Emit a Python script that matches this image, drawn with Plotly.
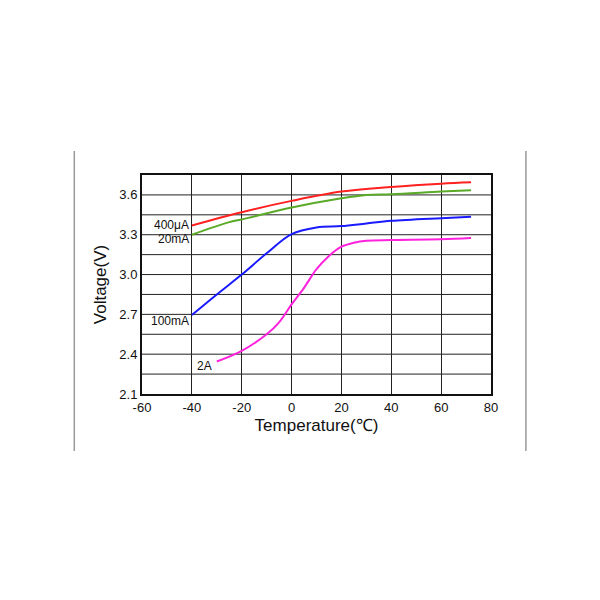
import plotly.graph_objects as go

red_x = [-40, -20, 0, 20, 40, 60, 72]
red_y = [3.37, 3.47, 3.555, 3.625, 3.66, 3.685, 3.695]
green_x = [-40, -25, -20, 0, 20, 30, 40, 60, 72]
green_y = [3.30, 3.395, 3.415, 3.505, 3.575, 3.60, 3.605, 3.625, 3.635]
blue_x = [-40, -30, -20, -10, 0, 10, 20, 30, 40, 60, 72]
blue_y = [2.695, 2.85, 3.0, 3.16, 3.305, 3.355, 3.365, 3.385, 3.405, 3.425, 3.435]
mag_x = [-30, -20, -10, -5, 0, 5, 10, 15, 20, 25, 30, 40, 60, 72]
mag_y = [2.345, 2.425, 2.55, 2.64, 2.775, 2.9, 3.04, 3.14, 3.21, 3.24, 3.255, 3.26, 3.265, 3.275]
x_ticks = [-60, -40, -20, 0, 20, 40, 60, 80]
y_ticks = [2.1, 2.4, 2.7, 3.0, 3.3, 3.6]

labels = [("400μA", -40.5, 3.37), ("20mA", -40.5, 3.27), ("100mA", -40.5, 2.65), ("2A", -31, 2.31)]

fig = go.Figure()
for x, y, c in [(red_x, red_y, "#ff2020"), (green_x, green_y, "#5aaa28"),
                (blue_x, blue_y, "#1a1aff"), (mag_x, mag_y, "#ff22dd")]:
    fig.add_trace(go.Scatter(x=x, y=y, mode="lines", line=dict(color=c, width=2, shape="spline"), showlegend=False))
for t, x, y in labels:
    fig.add_annotation(x=x, y=y, text=t, showarrow=False, xanchor="right",
                       font=dict(size=12, color="#111"))

fig.add_shape(type="line", xref="paper", yref="paper", x0=-0.194, x1=-0.194, y0=-0.26, y1=1.11, line=dict(color="#999", width=1.5))
fig.add_shape(type="line", xref="paper", yref="paper", x0=1.1, x1=1.1, y0=-0.26, y1=1.11, line=dict(color="#999", width=1.5))

fig.update_layout(
    width=600, height=600, paper_bgcolor="white", plot_bgcolor="white",
    margin=dict(l=134, r=117, t=167, b=214),
    font=dict(family="Liberation Sans, Arial", color="#111"),
    xaxis=dict(range=[-60, 80], tickvals=x_ticks, ticktext=[str(v) for v in x_ticks],
               showgrid=True, gridcolor="#222", gridwidth=1,
               showline=True, linecolor="#111", linewidth=2, mirror=True, zeroline=False,
               tickfont=dict(size=13), title=dict(text="Temperature(℃)", font=dict(size=17), standoff=6)),
    yaxis=dict(range=[2.1, 3.75], tickvals=y_ticks, ticktext=[f"{v:.1f}" for v in y_ticks],
               showline=True, linecolor="#111", linewidth=2, mirror=True, zeroline=False, showgrid=False,
               tickfont=dict(size=13), title=dict(text="Voltage(V)", font=dict(size=17), standoff=8)),
)
for v in [2.25, 2.4, 2.55, 2.7, 2.85, 3.0, 3.15, 3.3, 3.45, 3.6]:
    fig.add_hline(y=v, line=dict(color="#222", width=1), layer="below")
fig.write_html("out.html")
